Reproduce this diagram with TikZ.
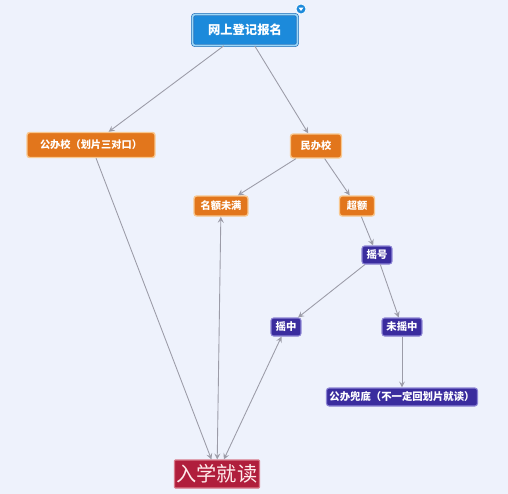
\documentclass[tikz,border=0pt]{standalone}
\usepackage{fontspec}
\newfontfamily\cjk{Noto Sans CJK SC}
\usepackage{tikz}
\usetikzlibrary{arrows,positioning}

\definecolor{bgcol}{HTML}{EEF2FC}
\definecolor{linecol}{HTML}{9C9CA8}
\definecolor{bluefill}{HTML}{1C8ADB}
\definecolor{blueedge}{HTML}{2A6FB8}
\definecolor{bluelight}{HTML}{9AD8F8}
\definecolor{orangefill}{HTML}{E2761C}
\definecolor{orangeedge}{HTML}{F8C890}
\definecolor{purplefill}{HTML}{3A2C9E}
\definecolor{purpleedge}{HTML}{8C84D4}
\definecolor{redfill}{HTML}{B01E3C}
\definecolor{rededge}{HTML}{D8798A}

\begin{document}
\begin{tikzpicture}[x=0.02cm, y=-0.02cm,
    box/.style={rectangle, rounded corners=1.5pt, inner sep=0pt, text=white, font=\cjk\bfseries},
    topbox/.style={box, fill=bluefill, draw=blueedge, double=bluelight, double distance=0.9pt, font=\cjk\bfseries\fontsize{7}{8}\selectfont},
    orangebox/.style={box, fill=orangefill, draw=orangeedge, line width=0.8pt, font=\cjk\bfseries\fontsize{5.8}{7}\selectfont},
    purplebox/.style={box, fill=purplefill, draw=purpleedge, line width=0.6pt, font=\cjk\bfseries\fontsize{5.9}{7}\selectfont},
    redbox/.style={box, fill=redfill, draw=rededge, line width=0.6pt, rounded corners=0.5pt, text=red!8, font=\cjk\fontsize{11.5}{13}\selectfont},
    link/.style={linecol, line width=0.5pt, -stealth},
    twolink/.style={linecol, line width=0.5pt, stealth-stealth}]
\useasboundingbox[fill=bgcol] (0,0) rectangle (508,494);
% top
\node[topbox, minimum width=2.1cm, minimum height=0.62cm] (reg) at (245,30) {网上登记报名};
\fill[bluefill, draw=white, line width=0.4pt] (301,9) circle (5);
\fill[white] (298.5,7.5) -- (303.5,7.5) -- (301,11) -- cycle;
% 2nd row
\node[orangebox, minimum width=2.56cm, minimum height=0.5cm] (pub) at (91,145) {公办校（划片三对口）};
\node[orangebox, minimum width=1.02cm, minimum height=0.48cm] (pri) at (316,146) {民办校};
% 3rd row
\node[orangebox, minimum width=1.08cm, minimum height=0.4cm] (open) at (221,206) {名额未满};
\node[orangebox, minimum width=0.7cm, minimum height=0.4cm] (over) at (357,206) {超额};
% lottery
\node[purplebox, minimum width=0.6cm, minimum height=0.36cm] (lot) at (377,255) {摇号};
\node[purplebox, minimum width=0.6cm, minimum height=0.36cm] (win) at (286,327) {摇中};
\node[purplebox, minimum width=0.8cm, minimum height=0.36cm] (lose) at (402,327) {未摇中};
\node[purplebox, minimum width=3.02cm, minimum height=0.36cm] (back) at (402,397) {公办兜底（不一定回划片就读）};
% bottom
\node[redbox, minimum width=1.7cm, minimum height=0.56cm] (enrol) at (217,474) {入学就读};
% links
\draw[link] (reg) -- (pub);
\draw[link] (reg) -- (pri);
\draw[link] (pri) -- (open);
\draw[link] (pri) -- (over);
\draw[link] (over) -- (lot);
\draw[link] (lot) -- (win);
\draw[link] (lot) -- (lose);
\draw[link] (lose) -- (back);
\draw[link] (pub) -- (enrol);
\draw[twolink] (open) -- (enrol);
\draw[twolink] (win) -- (enrol);
\end{tikzpicture}
\end{document}
